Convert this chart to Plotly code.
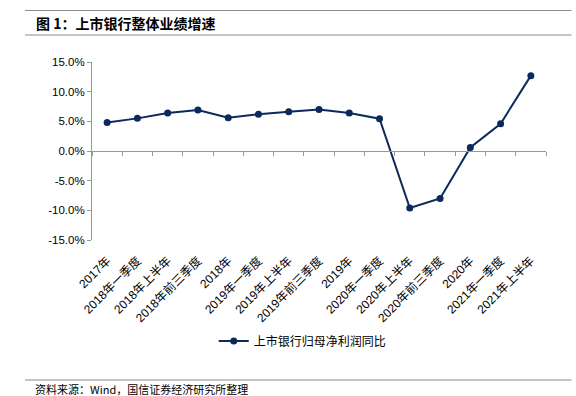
import plotly.graph_objects as go

categories = ["2017年", "2018年一季度", "2018年上半年", "2018年前三季度", "2018年",
              "2019年一季度", "2019年上半年", "2019年前三季度", "2019年",
              "2020年一季度", "2020年上半年", "2020年前三季度", "2020年",
              "2021年一季度", "2021年上半年"]
values = [4.8, 5.5, 6.4, 6.9, 5.6, 6.2, 6.6, 7.0, 6.4, 5.45, -9.6, -8.0, 0.6, 4.6, 12.7]
series_name = "上市银行归母净利润同比"
y_ticks = [-15, -10, -5, 0, 5, 10, 15]
title_text = "图 1：上市银行整体业绩增速"
source_text = "资料来源：Wind，国信证券经济研究所整理"

navy = "#0b2a5b"
grey = "#999999"
font_main = "Liberation Sans, Arial, Noto Sans CJK SC"

fig = go.Figure()
fig.add_trace(go.Scatter(
    x=categories, y=values, mode="lines+markers", name=series_name,
    line=dict(color=navy, width=2), marker=dict(color=navy, size=7),
    xaxis="x", yaxis="y"))
# invisible helper trace for the label axis
fig.add_trace(go.Scatter(
    x=categories, y=values, mode="lines", showlegend=False, hoverinfo="skip",
    line=dict(color="rgba(0,0,0,0)"), xaxis="x2", yaxis="y"))

W, H = 576, 396
ml, mr, mt, mb = 92, 29.5, 62, 156
pw, ph = W - ml - mr, H - mt - mb

def fx(p):
    return (p - ml) / pw

def fy(p):
    return (H - mb - p) / ph

fig.update_layout(
    width=W, height=H,
    margin=dict(l=ml, r=mr, t=mt, b=mb, autoexpand=False),
    paper_bgcolor="white", plot_bgcolor="white",
    font=dict(family=font_main, size=11, color="black"),
    showlegend=True,
    legend=dict(orientation="h", x=fx(303), xanchor="center", y=fy(341), yanchor="middle",
                font=dict(size=12, family="Noto Sans CJK SC"), itemwidth=30),
    xaxis=dict(type="category", categoryorder="array", categoryarray=categories,
               range=[-0.5, len(categories) - 0.5], automargin=False,
               anchor="free", position=0.5, showline=True, linecolor=grey, linewidth=1,
               ticks="outside", tickson="boundaries", ticklen=4, tickcolor=grey,
               showticklabels=False, showgrid=False, zeroline=False),
    xaxis2=dict(type="category", categoryorder="array", categoryarray=categories,
                range=[-0.5, len(categories) - 0.5], overlaying="x", side="bottom",
                anchor="y", showline=False, showgrid=False, zeroline=False, automargin=False,
                ticks="outside", ticklen=8, tickcolor="rgba(0,0,0,0)",
                tickangle=-45, tickfont=dict(size=12, family=font_main)),
    yaxis=dict(range=[-15, 15], tickvals=y_ticks, automargin=False,
               ticktext=[f"{v:.1f}%" for v in y_ticks],
               showline=True, linecolor=grey, linewidth=1,
               ticks="outside", ticklen=4, tickcolor=grey,
               showgrid=False, zeroline=False, tickfont=dict(size=11.5)),
)

shapes = []
for yy in (10.5, 35, 380):
    shapes.append(dict(type="line", xref="paper", yref="paper",
                       x0=fx(25), x1=fx(572), y0=fy(yy), y1=fy(yy),
                       line=dict(color="#8c8c8c", width=1.2)))
fig.update_layout(shapes=shapes)

fig.add_annotation(text=f"<b>{title_text}</b>", xref="paper", yref="paper",
                   x=fx(34), y=fy(23), xanchor="left", yanchor="middle",
                   showarrow=False, font=dict(size=14, family="Noto Sans CJK SC", color="black"))
fig.add_annotation(text=source_text, xref="paper", yref="paper",
                   x=fx(33), y=fy(389), xanchor="left", yanchor="middle",
                   showarrow=False, font=dict(size=11, family="Noto Sans CJK SC", color="black"))

fig.write_html("out.html", config={"displayModeBar": False},
               post_script="document.body.style.margin='0';document.body.style.overflow='hidden';")
